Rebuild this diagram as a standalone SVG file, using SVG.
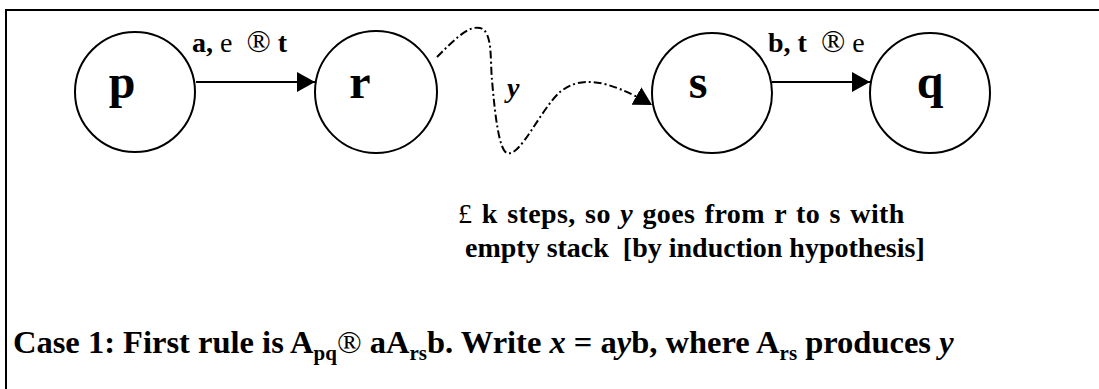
<svg xmlns="http://www.w3.org/2000/svg" width="1099" height="389" viewBox="0 0 1099 389">
<style>
.frame{fill:none;stroke:#000;stroke-width:2}
.node circle{fill:#fff;stroke:#000;stroke-width:2}
.nl{font-family:"Liberation Serif","Times New Roman",serif;font-weight:bold;font-size:48px;text-anchor:middle}
.el{font-family:"Liberation Serif","Times New Roman",serif;font-weight:bold;font-size:28px}
.reg{font-weight:normal}
.sym{font-weight:normal;font-size:32px}
.edge{fill:none;stroke:#000;stroke-width:2}
.dd{stroke-dasharray:8 3 2 3}
.txt{font-family:"Liberation Serif","Times New Roman",serif;font-weight:bold;font-size:28px}
.bot{font-family:"Liberation Serif","Times New Roman",serif;font-weight:bold;font-size:32.5px}
.sub{font-size:21px}
</style>
<defs>
<marker id="ah" markerWidth="18" markerHeight="20" refX="18" refY="10" orient="auto" markerUnits="userSpaceOnUse">
<path d="M0,0 L18,10 L0,20 Z" fill="#000"/>
</marker>
</defs>
<path class="frame" d="M6,389 V10 H1100"/>
<g id="connectors">
<line class="edge" x1="196" y1="82" x2="315" y2="82" marker-end="url(#ah)"/>
<path class="edge dd" d="M437,57 C452,42 468,25 480,28 C493,31 490,60 492,80 C495,115 499,150 507,153 C520,158 540,110 560,92 C580,76 605,78 652,105" marker-end="url(#ah)"/>
<line class="edge" x1="772" y1="82" x2="870" y2="82" marker-end="url(#ah)"/>
</g>
<g id="node-p" class="node"><circle cx="135" cy="92" r="60"/><text class="nl" x="122" y="98">p</text></g>
<g id="node-r" class="node"><circle cx="376" cy="92" r="61"/><text class="nl" x="360" y="98">r</text></g>
<g id="node-s" class="node"><circle cx="712" cy="93" r="60"/><text class="nl" x="698" y="98">s</text></g>
<g id="node-q" class="node"><circle cx="930" cy="93" r="60"/><text class="nl" x="930" y="98">q</text></g>
<text class="el" x="192" y="52" xml:space="preserve">a, <tspan class="reg">e</tspan>  <tspan class="sym">®</tspan> t</text>
<text class="el" x="768" y="52" xml:space="preserve">b, t  <tspan class="sym">®</tspan> <tspan class="reg">e</tspan></text>
<text class="el" x="507" y="97" font-style="italic">y</text>
<text class="txt" x="458" y="223" word-spacing="2" letter-spacing="0.4"><tspan class="reg">£</tspan> k steps, so <tspan font-style="italic">y</tspan> goes from r to s with</text>
<text class="txt" x="465" y="257" xml:space="preserve">empty stack  [by induction hypothesis]</text>
<text class="bot" x="13" y="353">Case 1: First rule is A<tspan class="sub" dy="7">pq</tspan><tspan class="reg" dy="-7">®</tspan> aA<tspan class="sub" dy="7">rs</tspan><tspan dy="-7">b. Write </tspan><tspan font-style="italic">x</tspan> = a<tspan font-style="italic">y</tspan>b, where A<tspan class="sub" dy="7">rs</tspan><tspan dy="-7"> produces </tspan><tspan font-style="italic">y</tspan></text>
</svg>
